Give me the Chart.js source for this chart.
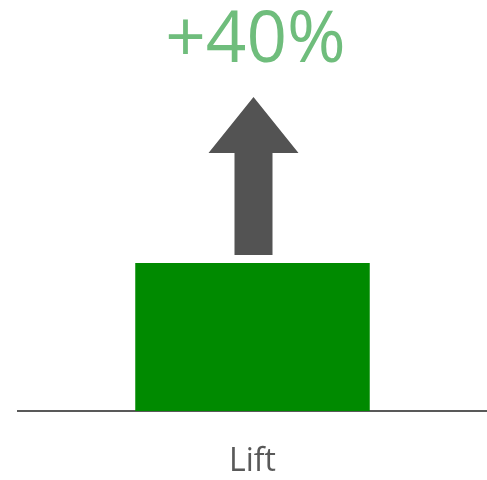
<!DOCTYPE html>
<html>
<head>
<meta charset="utf-8">
<script src="https://cdn.jsdelivr.net/npm/chart.js@4"></script>
<style>
  html, body { margin: 0; padding: 0; background: #fff; }
  #wrap { width: 487px; height: 480px; }
</style>
</head>
<body>
<div id="wrap"><canvas id="liftChart"></canvas></div>
<script>
// data
const categories = ['Lift'];
const liftValues = [40];
const liftLabels = ['+40%'];
const yTicks = [0, 100];

// arrow + headline above the bar
const arrowPlugin = {
  id: 'liftArrow',
  afterDatasetsDraw(chart) {
    const c = chart.ctx;
    const bar = chart.getDatasetMeta(0).data[0];
    if (!bar) return;
    const cx = bar.x + 1;
    const base = bar.y - 8;
    c.save();
    c.fillStyle = '#535353';
    c.beginPath();
    c.moveTo(cx - 19, base);
    c.lineTo(cx - 19, base - 102);
    c.lineTo(cx - 45, base - 102);
    c.lineTo(cx, base - 158);
    c.lineTo(cx + 45, base - 102);
    c.lineTo(cx + 19, base - 102);
    c.lineTo(cx + 19, base);
    c.closePath();
    c.fill();

    c.fillStyle = '#6fbd7c';
    c.font = '71px "Open Sans", sans-serif';
    c.textAlign = 'center';
    c.textBaseline = 'alphabetic';
    c.fillText(liftLabels[0], cx + 2, 62);
    c.restore();
  }
};

const ctx = document.getElementById('liftChart').getContext('2d');
new Chart(ctx, {
  type: 'bar',
  data: {
    labels: categories,
    datasets: [{
      label: 'Lift',
      data: liftValues,
      backgroundColor: '#008a00',
      barPercentage: 0.5,
      categoryPercentage: 1.0,
    }]
  },
  options: {
    responsive: true,
    maintainAspectRatio: false,
    animation: false,
    layout: { padding: { left: 18, right: 0, top: 41, bottom: 0 } },
    plugins: {
      legend: { display: false },
      tooltip: { enabled: false },
    },
    scales: {
      x: {
        grid: { display: false, drawTicks: false },
        border: { display: true, color: '#595959', width: 2 },
        ticks: {
          color: '#595959',
          padding: 32,
          font: { family: '"Open Sans", sans-serif', size: 32 },
        },
        afterFit(scale) { scale.height = 69; },
      },
      y: {
        display: false,
        min: yTicks[0],
        max: yTicks[1],
      }
    }
  },
  plugins: [arrowPlugin]
});
</script>
</body>
</html>
